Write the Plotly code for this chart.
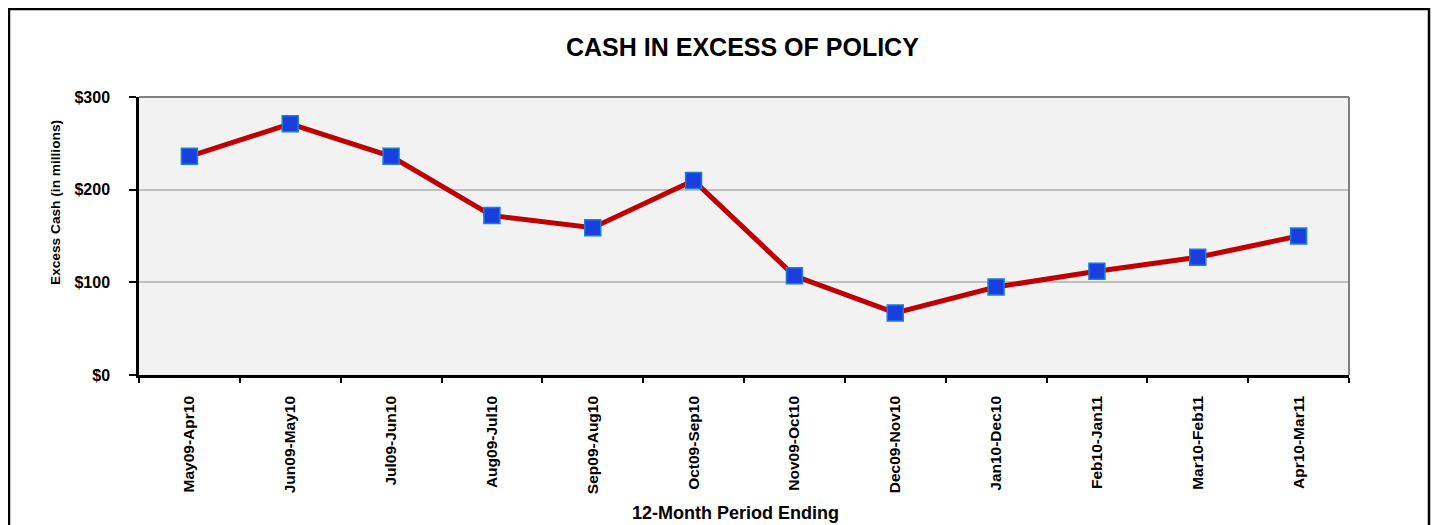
import plotly.graph_objects as go

categories = ["May09-Apr10", "Jun09-May10", "Jul09-Jun10", "Aug09-Jul10", "Sep09-Aug10",
              "Oct09-Sep10", "Nov09-Oct10", "Dec09-Nov10", "Jan10-Dec10", "Feb10-Jan11",
              "Mar10-Feb11", "Apr10-Mar11"]
excess_cash = [236, 271, 236, 172, 159, 210, 107, 67, 95, 112, 127, 150]
y_tick_vals = [0, 100, 200, 300]
y_tick_text = ["$0", "$100", "$200", "$300"]

W, H = 1439, 525
OFF = 8  # page body margin offset
# desired plot area in screenshot pixels: x 139..1349, y 97..375
L, R, T, B = 139 - OFF, 1439 - 1349 + OFF, 97 - OFF, 525 - 375 + OFF
pw, ph = W - L - R, H - T - B

def px_x(p):
    return (p - OFF - L) / pw

def px_y(p):
    return (H - B - (p - OFF)) / ph

font = "Liberation Sans, Arial, sans-serif"

fig = go.Figure()
fig.add_trace(go.Scatter(
    x=categories, y=excess_cash, mode="lines+markers",
    line=dict(color="#c00000", width=5),
    marker=dict(symbol="square", size=16, color="#1a3fe0",
                line=dict(color="#1c7fd6", width=1.5)),
    showlegend=False, hoverinfo="x+y"))

fig.update_layout(
    width=W, height=H,
    margin=dict(l=L, r=R, t=T, b=B),
    paper_bgcolor="white", plot_bgcolor="#f2f2f2",
    font=dict(family=font, color="black"),
    xaxis=dict(type="category", tickangle=-90, tickfont=dict(size=15.5, family=font),
               tickvals=categories, ticktext=["<b>%s</b>" % c for c in categories],
               tickson="boundaries", ticks="outside", ticklen=5, tickwidth=1.5, tickcolor="black",
               ticklabelstandoff=12,
               showline=True, linecolor="black", linewidth=2.5, showgrid=False,
               range=[-0.5, len(categories) - 0.5], fixedrange=True),
    yaxis=dict(range=[0, 300], tickvals=y_tick_vals, ticktext=["<b>%s</b>" % t for t in y_tick_text],
               tickfont=dict(size=16, family=font), ticks="outside", ticklen=7, tickwidth=1.5,
               tickcolor="black", ticklabelstandoff=16, showline=True, linecolor="black", linewidth=2.5,
               showgrid=True, gridcolor="#c0c0c0", gridwidth=1.5, zeroline=False,
               fixedrange=True),
)

# titles as annotations placed at reference positions
fig.add_annotation(text="<b>CASH IN EXCESS OF POLICY</b>", xref="paper", yref="paper",
                   x=px_x(742), y=px_y(47), xanchor="center", yanchor="middle",
                   showarrow=False, font=dict(size=25, family=font))
fig.add_annotation(text="<b>Excess Cash (in millions)</b>", xref="paper", yref="paper",
                   x=px_x(55), y=px_y(203), xanchor="center", yanchor="middle", textangle=-90,
                   showarrow=False, font=dict(size=13.7, family=font))
fig.add_annotation(text="<b>12-Month Period Ending</b>", xref="paper", yref="paper",
                   x=px_x(735), y=px_y(513), xanchor="center", yanchor="middle",
                   showarrow=False, font=dict(size=18, family=font))

# gray top and right plot border
fig.add_shape(type="line", xref="paper", yref="paper", x0=0, x1=1, y0=1, y1=1,
              line=dict(color="#808080", width=2))
fig.add_shape(type="line", xref="paper", yref="paper", x0=1, x1=1, y0=0, y1=1,
              line=dict(color="#808080", width=2))
# outer chart border
fig.add_shape(type="rect", xref="paper", yref="paper",
              x0=px_x(9), x1=px_x(1429), y0=px_y(545), y1=px_y(9),
              line=dict(color="black", width=2.5), fillcolor="rgba(0,0,0,0)", layer="below")

fig.write_html("out.html")
